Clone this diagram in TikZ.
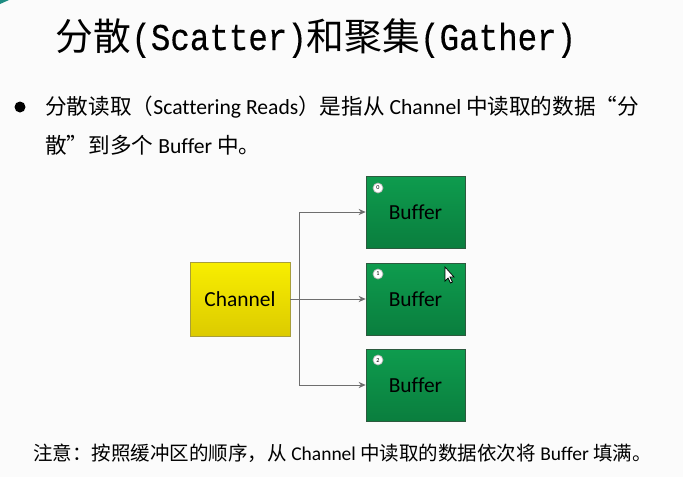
\documentclass[tikz,border=0pt]{standalone}
\usepackage{fontspec}
\setmainfont{Carlito}[Ligatures=NoCommon]
\newfontfamily\cjk{Noto Sans CJK SC}
\newfontfamily\titlelatin[FakeBold=0.4, FakeStretch=0.86]{Liberation Mono}
\newcommand{\zh}[1]{{\cjk #1}}
\usetikzlibrary{arrows.meta}

\definecolor{pagebg}{HTML}{FBFBFB}
\definecolor{chtop}{HTML}{F8EE00}
\definecolor{chbot}{HTML}{DCCB00}
\definecolor{chline}{HTML}{A89E3A}
\definecolor{buftop}{HTML}{0E9C4E}
\definecolor{bufbot}{HTML}{0A7E3E}
\definecolor{bufline}{HTML}{2C5A3E}
\definecolor{wire}{HTML}{6E6E6E}
\definecolor{corner}{HTML}{1E8C82}

\tikzset{
  chanbox/.style={draw=chline, top color=chtop, bottom color=chbot,
    minimum width=2cm, minimum height=1.48cm, inner sep=0pt,
    font=\fontsize{12.2pt}{14pt}\selectfont},
  bufbox/.style={draw=bufline, top color=buftop, bottom color=bufbot,
    minimum width=1.98cm, minimum height=1.44cm, inner sep=0pt,
    font=\fontsize{12.2pt}{14pt}\selectfont},
  tag/.style={circle, fill=white, draw=gray!60, inner sep=0pt,
    minimum size=0.2cm, font=\fontsize{3.5pt}{4pt}\selectfont},
  feed/.style={draw=wire, line width=0.5pt, -{Stealth[length=4pt,width=3.5pt]}},
  txt/.style={anchor=west, inner sep=0pt, font=\fontsize{12.3pt}{14pt}\selectfont},
}

\begin{document}
\begin{tikzpicture}[x=0.02cm, y=-0.02cm]
    % page
    \fill[pagebg] (0,0) rectangle (683,477);
    \useasboundingbox (0,0) rectangle (683,477);
    \fill[corner] (0,0) -- (9,0) -- (0,4) -- cycle;

    % Title
    \node[inner sep=0pt, font=\fontsize{21.5pt}{24pt}\selectfont] (title) at (316,38)
      {\zh{分散}{\titlelatin (Scatter)}\zh{和聚集}{\titlelatin (Gather)}};

    % Bullet text
    \fill (20,107) circle (5.5);
    \node[txt] (line1) at (45,107)
      {\zh{分散读取（}Scattering Reads\zh{）是指从} Channel \zh{中读取的数据“分}};
    \node[txt] (line2) at (45,145) {\zh{散”到多个} Buffer \zh{中。}};

    % Boxes
    \node[chanbox] (ch) at (240,299) {Channel};
    \node[bufbox] (b0) at (415.5,212) {Buffer};
    \node[bufbox] (b1) at (415.5,299) {Buffer};
    \node[bufbox] (b2) at (415.5,385) {Buffer};

    % Index tags
    \node[tag] (t0) at (378,188) {0};
    \node[tag] (t1) at (378,274) {1};
    \node[tag] (t2) at (378,360) {2};

    % Wires
    \coordinate (split) at (299,299);
    \draw[draw=wire, line width=0.5pt] (ch.east) -- (split);
    \draw[feed] (split) |- (b0.west);
    \draw[feed] (split) -- (b1.west);
    \draw[feed] (split) |- (b2.west);

    % Mouse pointer
    \draw[fill=white, line width=0.4pt] (445,267) -- (445,281) -- (448,278) -- (450.5,283)
      -- (452.5,282) -- (450,277) -- (454,277) -- cycle;

    % Note
    \node[txt, font=\fontsize{11.1pt}{13pt}\selectfont] (note) at (33,453)
      {\zh{注意：按照缓冲区的顺序，从} Channel \zh{中读取的数据依次将} Buffer \zh{填满。}};
\end{tikzpicture}
\end{document}
